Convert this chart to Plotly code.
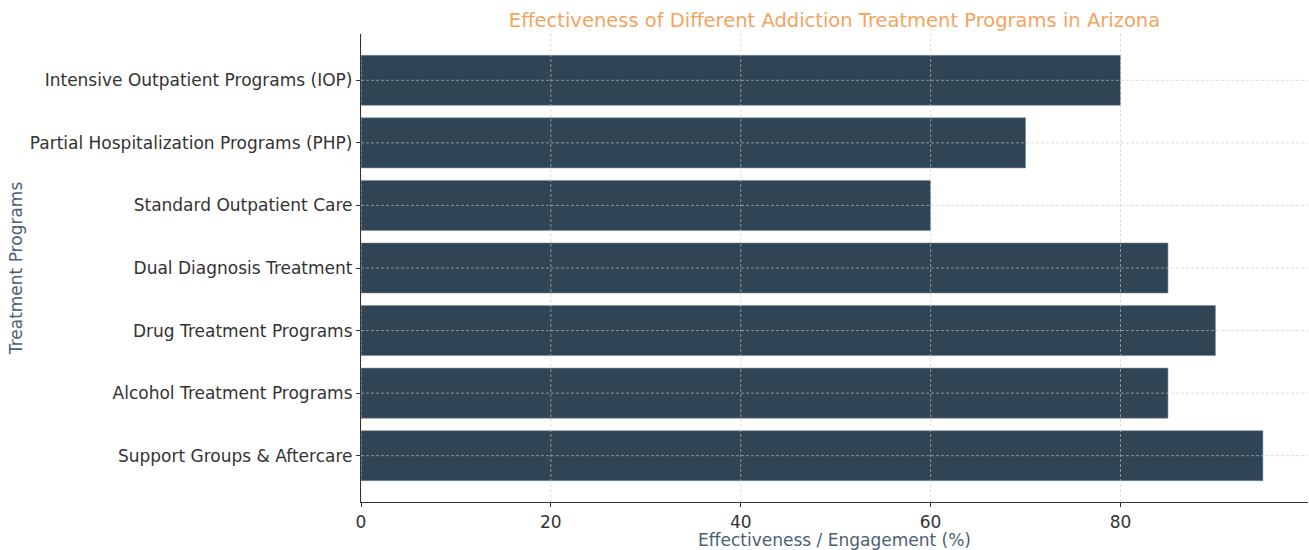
import plotly.graph_objects as go

programs = [
    "Intensive Outpatient Programs (IOP)",
    "Partial Hospitalization Programs (PHP)",
    "Standard Outpatient Care",
    "Dual Diagnosis Treatment",
    "Drug Treatment Programs",
    "Alcohol Treatment Programs",
    "Support Groups & Aftercare",
]
effectiveness = [80, 70, 60, 85, 90, 85, 95]
x_ticks = [0, 20, 40, 60, 80]

BAR = "#2f4555"
GRID = "rgba(200,200,200,0.75)"

fig = go.Figure()
fig.add_trace(go.Bar(
    x=effectiveness, y=programs, orientation="h",
    marker=dict(color=BAR, line=dict(color="#7d8d99", width=0.6)),
    width=0.8,
))

shapes = []
for t in x_ticks:
    shapes.append(dict(type="line", xref="x", yref="paper", x0=t, x1=t, y0=0, y1=1,
                       line=dict(color=GRID, width=0.8, dash="3px,2px"), layer="above"))
for p in programs:
    shapes.append(dict(type="line", xref="paper", yref="y", x0=0, x1=1, y0=p, y1=p,
                       line=dict(color=GRID, width=0.8, dash="3px,2px"), layer="above"))

fig.update_layout(
    width=1309, height=550,
    margin=dict(l=361, r=1, t=34, b=45),
    plot_bgcolor="white", paper_bgcolor="white",
    showlegend=False,
    shapes=shapes,
    font=dict(family="DejaVu Sans", size=17, color="#333333"),
    title=dict(
        text="Effectiveness of Different Addiction Treatment Programs in Arizona",
        x=0.6375, xanchor="center", y=0.963, yanchor="middle",
        font=dict(family="DejaVu Sans", size=19.5, color="#f4a460"),
    ),
    xaxis=dict(
        range=[0, 99.75], tickvals=x_ticks, ticktext=[str(t) for t in x_ticks],
        showgrid=False, zeroline=False,
        showline=True, linecolor="#333333", linewidth=1.2,
        ticks="outside", ticklen=4, tickcolor="#333333",
        tickfont=dict(size=17, color="#333333"),
        title=dict(text="Effectiveness / Engagement (%)", standoff=6,
                   font=dict(size=17, color="#4a6175")),
    ),
    yaxis=dict(
        categoryorder="array", categoryarray=programs,
        range=[6.74, -0.74],
        showgrid=False, zeroline=False,
        showline=True, linecolor="#333333", linewidth=1.2,
        ticks="outside", ticklen=4, tickcolor="#333333",
        tickfont=dict(size=17, color="#333333"),
        title=dict(text="Treatment Programs", standoff=2,
                   font=dict(size=17, color="#4a6175")),
    ),
)

fig.write_html("out.html")
